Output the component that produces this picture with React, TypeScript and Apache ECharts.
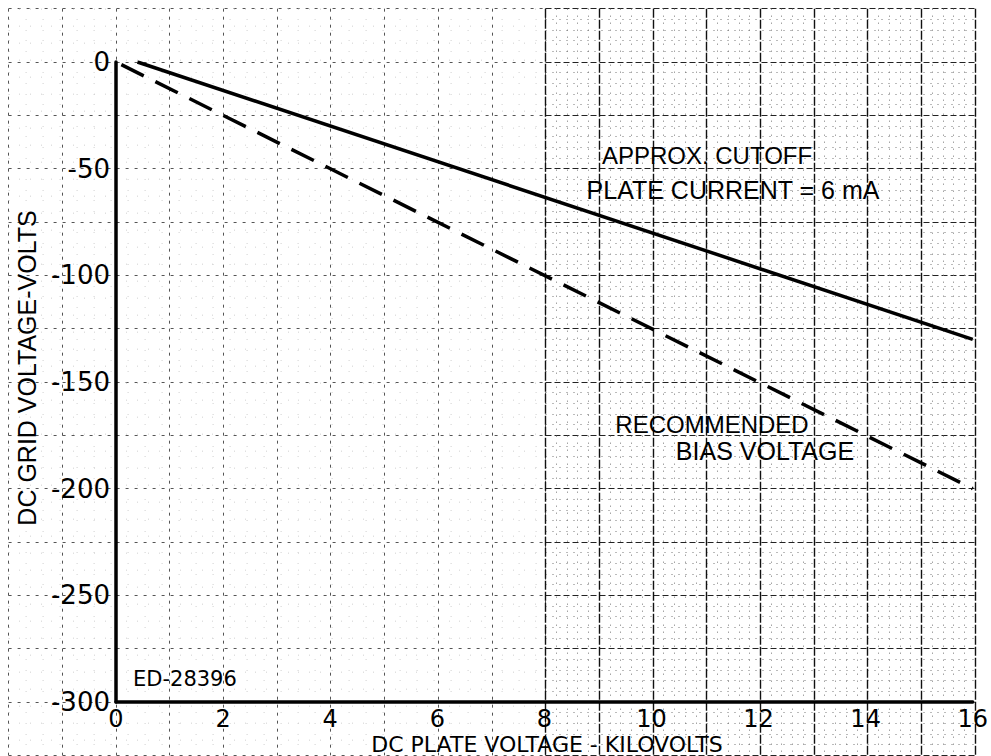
import React, { useEffect, useRef } from "react";
import * as echarts from "echarts";

// Data
const cutoffX = [0.4, 16]; // kV
const cutoffY = [0, -130]; // volts (approx. cutoff, plate current = 6 mA)
const biasX = [0.1, 16]; // kV
const biasY = [-1.25, -200]; // volts (recommended bias voltage)

const xRange = [0, 16];
const xLabelStep = 2;
const yRange = [-300, 0];
const yLabelStep = 50;

const xTitle = "DC PLATE VOLTAGE - KILOVOLTS";
const yTitle = "DC GRID VOLTAGE-VOLTS";
const noteCutoff = ["APPROX. CUTOFF", "PLATE CURRENT = 6 mA"];
const noteBias = ["RECOMMENDED", "BIAS VOLTAGE"];
const drawingNo = "ED-28396";

const SANS = "Liberation Sans";
const DEJA = "DejaVu Sans";

export default function App() {
  const ref = useRef<HTMLDivElement>(null);
  useEffect(() => {
    document.body.style.margin = "0";
    if (!ref.current) return;
    const chart = echarts.init(ref.current, undefined, { renderer: "svg" });

    const bgAxisCommon = {
      type: "value",
      axisLine: { show: false },
      axisTick: { show: false },
      axisLabel: { show: false },
      minorTick: { show: false, splitNumber: 5 },
    };

    const txt = (text: string, x: number, y: number, size: number, family: string, align = "center", rotation = 0) => ({
      type: "text",
      x,
      y,
      rotation,
      z: 20,
      style: { text, fill: "#000", fontSize: size, fontFamily: family, align, verticalAlign: "middle" },
    });

    const option: any = {
      animation: false,
      backgroundColor: "#ffffff",
      grid: [
        { left: 116, top: 62, width: 859, height: 640 },
        { left: 8.6, top: 8.67, width: 536.9, height: 746.7 },
        { left: 545.5, top: 8.67, width: 429.5, height: 746.7 },
      ],
      xAxis: [
        {
          gridIndex: 0,
          type: "value",
          min: xRange[0],
          max: xRange[1],
          interval: xLabelStep,
          z: 5,
          axisLine: { show: true, onZero: false, lineStyle: { color: "#000", width: 3.5 } },
          axisTick: { show: false },
          splitLine: { show: false },
          axisLabel: { margin: 5, color: "#000", fontSize: 24, fontFamily: DEJA },
        },
        {
          ...bgAxisCommon,
          gridIndex: 1,
          min: -2,
          max: 8,
          interval: 1,
          splitLine: { show: true, lineStyle: { color: "#555", width: 1, type: [3, 5] } },
          minorSplitLine: { show: true, lineStyle: { color: "#d0d0d0", width: 1, type: [1, 16] } },
        },
        {
          ...bgAxisCommon,
          gridIndex: 2,
          min: 8,
          max: 16,
          interval: 1,
          splitLine: { show: true, lineStyle: { color: "#111", width: 1.4, type: [9, 2] } },
          minorSplitLine: { show: true, lineStyle: { color: "#777", width: 1, type: [1, 6] } },
        },
      ],
      yAxis: [
        {
          gridIndex: 0,
          type: "value",
          min: yRange[0],
          max: yRange[1],
          interval: yLabelStep,
          z: 5,
          axisLine: { show: true, onZero: false, lineStyle: { color: "#000", width: 3.5 } },
          axisTick: { show: false },
          splitLine: { show: false },
          axisLabel: { margin: 6, color: "#000", fontSize: 26, fontFamily: DEJA },
        },
        {
          ...bgAxisCommon,
          gridIndex: 1,
          min: -325,
          max: 25,
          interval: 25,
          splitLine: { show: true, lineStyle: { color: "#555", width: 1, type: [3, 6] } },
          minorSplitLine: { show: true, lineStyle: { color: "#d0d0d0", width: 1, type: [1, 16] } },
        },
        {
          ...bgAxisCommon,
          gridIndex: 2,
          min: -325,
          max: 25,
          interval: 25,
          splitLine: { show: true, lineStyle: { color: "#222", width: 1.2, type: [6, 3] } },
          minorSplitLine: { show: true, lineStyle: { color: "#777", width: 1, type: [1, 6] } },
        },
      ],
      series: [
        {
          name: "Approx. cutoff",
          type: "line",
          xAxisIndex: 0,
          yAxisIndex: 0,
          z: 10,
          symbol: "none",
          data: cutoffX.map((x, i) => [x, cutoffY[i]]),
          lineStyle: { color: "#000", width: 3.5 },
        },
        {
          name: "Recommended bias voltage",
          type: "line",
          xAxisIndex: 0,
          yAxisIndex: 0,
          z: 10,
          symbol: "none",
          data: biasX.map((x, i) => [x, biasY[i]]),
          lineStyle: { color: "#000", width: 3.5, type: [25, 13] },
        },
      ],
      graphic: [
        txt(yTitle, 27, 368, 25, SANS, "center", Math.PI / 2),
        txt(xTitle, 547, 744, 22, DEJA),
        txt(noteCutoff[0], 707, 155, 24, SANS),
        txt(noteCutoff[1], 733, 190, 25, SANS),
        txt(noteBias[0], 712, 424, 24, SANS),
        txt(noteBias[1], 765, 451, 25, SANS),
        txt(drawingNo, 133, 679, 21, DEJA, "left"),
      ],
    };

    chart.setOption(option);
    return () => chart.dispose();
  }, []);

  return <div ref={ref} style={{ width: 991, height: 756 }} />;
}
